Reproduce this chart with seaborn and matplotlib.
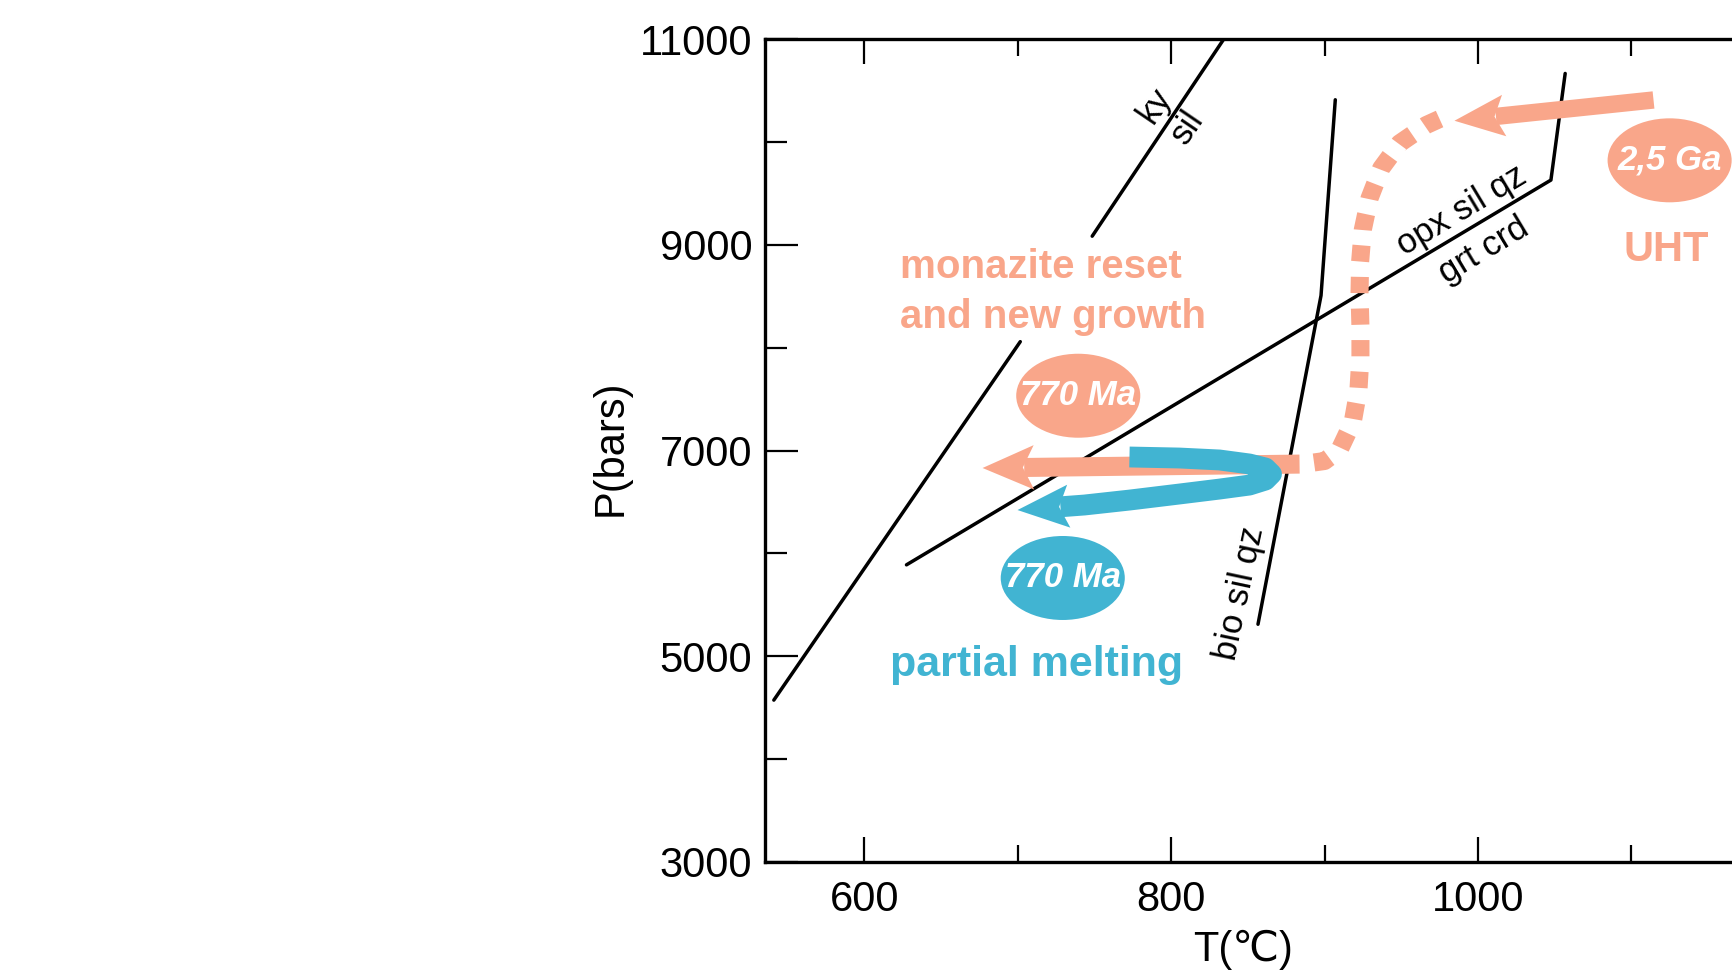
import numpy as np
import matplotlib
matplotlib.use("Agg")
import matplotlib.pyplot as plt
from matplotlib.patches import Ellipse, Polygon
from matplotlib.transforms import IdentityTransform
import seaborn as sns

# --- Curvas de reacción (T en °C, P en bars) ---
kysil_low_T = [540.9, 701.6]
kysil_low_P = [4572, 8059]
kysil_high_T = [748.5, 834.2]
kysil_high_P = [9085, 11000]

grtcrd_T = [627.4, 1047.6, 1056.9]
grtcrd_P = [5888, 9631, 10668]

biosil_T = [856.6, 897.7, 907.0]
biosil_P = [5310, 8508, 10412]

# --- Trayectorias P-T (el último punto es la punta de la flecha) ---
uht_arrow_T = [1114.5, 984.7]
uht_arrow_P = [10410, 10208]

uht_dots_T = [975, 966.3, 948.9, 936.9, 929.3, 924.9, 923.2, 922.8, 923.4,
              923.4, 922.1, 918.4, 909.7, 900, 883.7]
uht_dots_P = [10225, 10166, 9988, 9745, 9453, 9145, 8836, 8529, 8204,
              7912, 7588, 7280, 7005, 6898, 6864]

reset_arrow_T = [883.7, 677]
reset_arrow_P = [6868, 6830]

melt_T = [772.8, 805.4, 831.5, 851.0, 861.5, 865.4, 861.5, 851.0, 831.5,
          805.4, 772.8, 743.5, 699.8]
melt_P = [6937, 6927, 6908, 6869, 6830, 6772, 6713, 6664, 6625,
          6577, 6518, 6470, 6421]

# --- Edades (elipses) ---
age_labels = ["770 Ma", "770 Ma", "2,5 Ga"]
age_T = [739.4, 729.3, 1125]
age_P = [7533, 5760, 9823]
age_kind = ["reset", "melt", "uht"]

salmon = "#F9A68A"
blue = "#41B4D2"

sns.set_theme(style="ticks")
plt.rcParams["font.family"] = ["Liberation Sans", "DejaVu Sans"]

fig = plt.figure(figsize=(17.33, 9.76), dpi=100)
ax = fig.add_axes([0.4413, 0.1171, 0.5885, 0.8426])
ax.set_xlim(535, 1200)
ax.set_ylim(3000, 11000)

# líneas de reacción
for tt, pp in [(kysil_low_T, kysil_low_P), (kysil_high_T, kysil_high_P),
               (grtcrd_T, grtcrd_P), (biosil_T, biosil_P)]:
    sns.lineplot(x=tt, y=pp, sort=False, estimator=None, color="black",
                 lw=2.5, ax=ax, zorder=2)

# trayectoria UHT punteada
sns.lineplot(x=uht_dots_T, y=uht_dots_P, sort=False, estimator=None,
             color=salmon, lw=13, linestyle=(0, (0.9, 0.85)),
             dash_capstyle="butt", ax=ax, zorder=3)


def flecha(tt, pp, color, lw, hl, hw, notch, z):
    # cabeza con muesca, dibujada en pixeles a partir de la punta
    s = fig.dpi / 72.0
    a = ax.transData.transform((tt[-2], pp[-2]))
    b = ax.transData.transform((tt[-1], pp[-1]))
    d = (b - a) / np.hypot(*(b - a))
    n = np.array([-d[1], d[0]])
    base = b - d * (notch + 1) * s
    bt, bp = ax.transData.inverted().transform(base)
    sns.lineplot(x=list(tt[:-1]) + [bt], y=list(pp[:-1]) + [bp], sort=False,
                 estimator=None, color=color, lw=lw, solid_capstyle="butt",
                 solid_joinstyle="round", ax=ax, zorder=z)
    verts = [b, b - d * hl * s + n * hw / 2 * s, b - d * notch * s,
             b - d * hl * s - n * hw / 2 * s]
    ax.add_patch(Polygon(verts, closed=True, transform=IdentityTransform(),
                         facecolor=color, edgecolor="none", zorder=z))


flecha(uht_arrow_T, uht_arrow_P, salmon, 12.5, 36, 30, 29, 4)
flecha(reset_arrow_T, reset_arrow_P, salmon, 13.7, 37, 32, 29, 4)
flecha(melt_T, melt_P, blue, 15, 37, 31, 30, 5)

# elipses con edades
colores = {"reset": salmon, "melt": blue, "uht": salmon}
for lab, t, p, k in zip(age_labels, age_T, age_P, age_kind):
    ax.add_patch(Ellipse((t, p), width=80.9, height=817, color=colores[k],
                         lw=0, zorder=6))
    ax.text(t, p, lab, color="white", fontsize=25, fontweight="bold",
            style="italic", ha="center", va="center", zorder=7)

# textos
ax.text(623.3, 8544, "monazite reset\nand new growth", color=salmon,
        fontsize=29, fontweight="bold", ha="left", va="center",
        linespacing=1.38, zorder=7)
ax.text(1122.7, 8952, "UHT", color=salmon, fontsize=30, fontweight="bold",
        ha="center", va="center", zorder=7)
ax.text(712, 4910, "partial melting", color=blue, fontsize=31,
        fontweight="bold", ha="center", va="center", zorder=7)

etiquetas = [("ky", 789.1, 10360, 55.8), ("sil", 810.6, 10146, 55.8),
             ("opx sil qz", 989.3, 9339, 31), ("grt crd", 1003.7, 8950, 31),
             ("bio sil qz", 844.5, 5609, 78)]
for s, t, p, r in etiquetas:
    ax.text(t, p, s, fontsize=25, color="black", rotation=r,
            rotation_mode="anchor", ha="center", va="center", zorder=7)

# ejes
ax.set_xticks([600, 800, 1000])
ax.set_xticks([700, 900, 1100], minor=True)
ax.set_yticks([3000, 5000, 7000, 9000, 11000])
ax.set_yticks([4000, 6000, 8000, 10000], minor=True)
ax.tick_params(axis="both", which="both", direction="in", top=True,
               right=False, width=1.6, color="black", labelsize=30,
               labelcolor="black")
ax.tick_params(axis="x", which="major", length=18, pad=13)
ax.tick_params(axis="x", which="minor", length=12)
ax.tick_params(axis="y", which="major", length=24, pad=9)
ax.tick_params(axis="y", which="minor", length=16)
for sp in ax.spines.values():
    sp.set_linewidth(2.4)
    sp.set_color("black")
ax.grid(False)

ax.set_xlabel("T(℃)", fontsize=30, color="black")
ax.set_ylabel("P(bars)", fontsize=30, color="black")
ax.xaxis.set_label_coords(0.4687, -0.107)
ax.xaxis.label.set_va("center")
ax.yaxis.set_label_coords(-0.151, 0.5035)
ax.yaxis.label.set_va("center")

fig.savefig("out.png", dpi=100)
